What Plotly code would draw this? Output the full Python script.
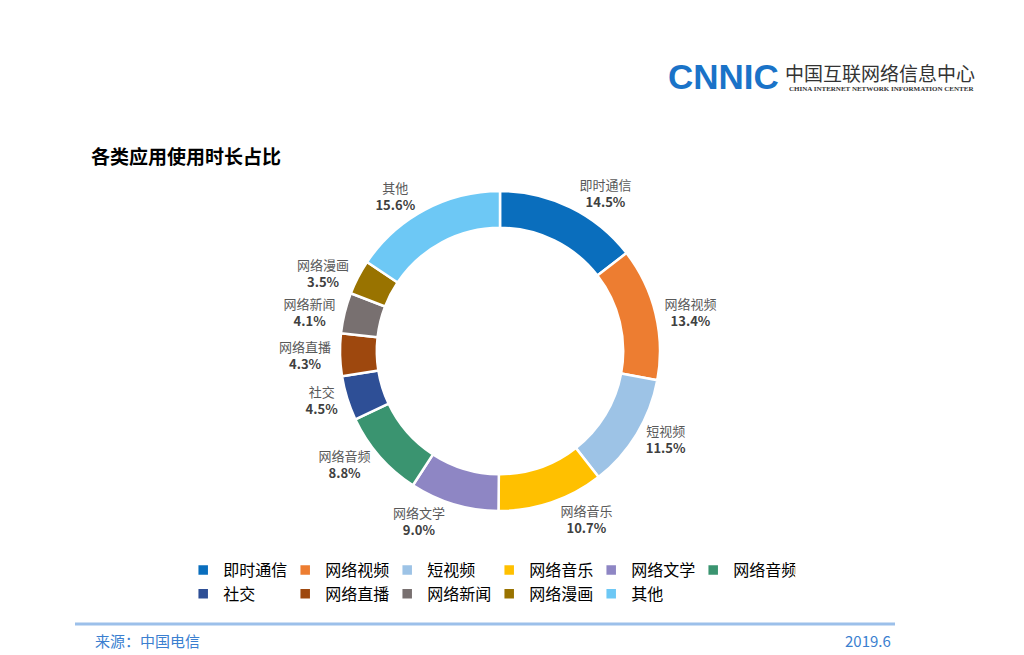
import plotly.graph_objects as go

categories = ["即时通信", "网络视频", "短视频", "网络音乐", "网络文学", "网络音频",
              "社交", "网络直播", "网络新闻", "网络漫画", "其他"]
values = [14.5, 13.4, 11.5, 10.7, 9.0, 8.8, 4.5, 4.3, 4.1, 3.5, 15.6]
colors = ["#0A6EBD", "#ED7D31", "#9DC3E6", "#FFC000", "#8E86C4", "#3A9470",
          "#2E4F96", "#9E480E", "#787070", "#997300", "#6DC8F5"]

title_text = "各类应用使用时长占比"
source_text = "来源：中国电信"
date_text = "2019.6"

FONT = "Noto Sans CJK SC"
W, H = 1024, 655
ML, MR, MT, MB = 180, 204, 170, 130
PW, PH = W - ML - MR, H - MT - MB


def px_x(x):
    return (x - ML) / PW


def px_y(y):
    return 1 - (y - MT) / PH


fig = go.Figure()
fig.add_trace(go.Pie(
    labels=categories,
    values=values,
    sort=False,
    direction="clockwise",
    rotation=0,
    hole=0.77,
    domain=dict(x=[0, 1], y=[px_y(511), px_y(191)]),
    marker=dict(colors=colors, line=dict(color="white", width=2.5)),
    textposition="outside",
    texttemplate="<span style='color:#595959'>%{label}</span><br><b>%{value:.1f}%</b>",
    textfont=dict(family=FONT, size=13, color="#404040"),
    hoverinfo="label+value",
    showlegend=True,
))

fig.update_layout(
    width=W, height=H,
    paper_bgcolor="white", plot_bgcolor="white",
    margin=dict(l=ML, r=MR, t=MT, b=MB, autoexpand=False),
    font=dict(family=FONT),
    legend=dict(
        orientation="h",
        x=0.005, xanchor="left",
        y=px_y(553), yanchor="top",
        entrywidth=57,
        font=dict(family=FONT, size=16, color="#000000"),
        itemwidth=30,
        traceorder="normal",
    ),
    annotations=[
        dict(text="<b>" + title_text + "</b>", x=px_x(89), y=px_y(155),
             font=dict(family=FONT, size=19, color="#000000"),
             xanchor="left", yanchor="middle"),
        dict(text="<b>CNNIC</b>", x=px_x(666), y=px_y(77),
             font=dict(family="Liberation Sans", size=35, color="#1A73C8"),
             xanchor="left", yanchor="middle"),
        dict(text="中国互联网络信息中心", x=px_x(783), y=px_y(73),
             font=dict(family=FONT, size=19, color="#333333"),
             xanchor="left", yanchor="middle"),
        dict(text="<b>CHINA INTERNET NETWORK INFORMATION CENTER</b>", x=px_x(787), y=px_y(89),
             font=dict(family="Liberation Serif", size=7, color="#333333"),
             xanchor="left", yanchor="middle"),
        dict(text=source_text, x=px_x(93), y=px_y(640),
             font=dict(family=FONT, size=15, color="#3B7FD0"),
             xanchor="left", yanchor="middle"),
        dict(text=date_text, x=px_x(893), y=px_y(640),
             font=dict(family=FONT, size=15, color="#3B7FD0"),
             xanchor="right", yanchor="middle"),
    ],
    shapes=[
        dict(type="line", xref="paper", yref="paper", x0=px_x(75), x1=px_x(895),
             y0=px_y(624), y1=px_y(624), line=dict(color="#9CC0EA", width=3)),
    ],
)
for a in fig.layout.annotations:
    a.xref = "paper"
    a.yref = "paper"
    a.showarrow = False

fig.write_html("out.html", config={"displayModeBar": False},
               post_script="document.body.style.margin='0';")
